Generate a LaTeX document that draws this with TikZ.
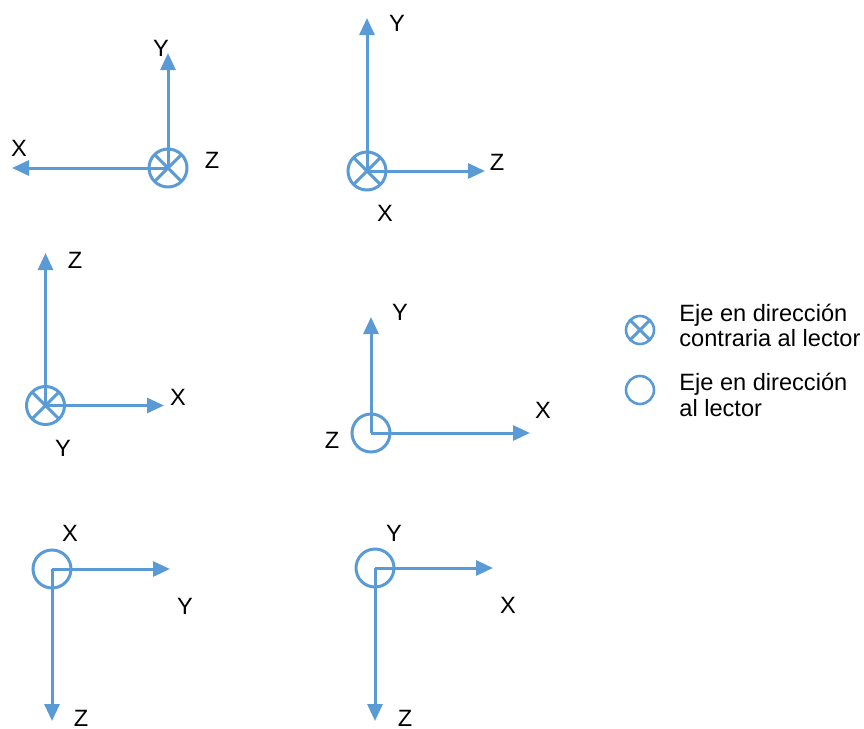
\documentclass[tikz,border=0pt]{standalone}
\usepackage{fontspec}
\setmainfont{Liberation Sans}
\usetikzlibrary{arrows.meta,positioning}
\definecolor{ejeazul}{HTML}{5B9BD5}
\tikzset{
  >={Triangle[length=8.5pt,width=7.5pt]},
  % ejes
  eje/.style={->,draw=ejeazul,line width=1.5pt},
  orig/.style={circle,draw=ejeazul,line width=1.5pt,inner sep=0pt,minimum size=19pt},
  entra/.style={orig,path picture={
      \draw[ejeazul,line width=1.5pt]
        (path picture bounding box.north west) -- (path picture bounding box.south east)
        (path picture bounding box.north east) -- (path picture bounding box.south west);}},
  % textos
  lbl/.style={font=\fontsize{11.8}{12.7}\selectfont,inner sep=0pt},
  ley/.style={lbl,anchor=west,align=left},
}
\begin{document}
\begin{tikzpicture}[x=0.5pt,y=-0.5pt]
  \useasboundingbox (0,0) rectangle (864,729);
  % sistema 1
  \node[entra] (o1) at (168,168) {};
  \coordinate (x1) at (12,168);
  \coordinate (y1) at (168,53);
  \node[lbl] (lx1) at (19,148) {X};
  \node[lbl] (ly1) at (161,48) {Y};
  \node[lbl] (lz1) at (212,160) {Z};
  \draw[eje] (o1.center) -- (x1);
  \draw[eje] (o1.center) -- (y1);
  % sistema 2
  \node[entra] (o2) at (367,171) {};
  \coordinate (y2) at (367,18);
  \coordinate (z2) at (485,171);
  \node[lbl] (ly2) at (397,23) {Y};
  \node[lbl] (lz2) at (497,162) {Z};
  \node[lbl] (lx2) at (385,213) {X};
  \draw[eje] (o2.center) -- (y2);
  \draw[eje] (o2.center) -- (z2);
  % sistema 3
  \node[entra] (o3) at (45.5,405.5) {};
  \coordinate (z3) at (45.5,253);
  \coordinate (x3) at (164,405.5);
  \node[lbl] (lz3) at (75,260) {Z};
  \node[lbl] (lx3) at (178,397) {X};
  \node[lbl] (ly3) at (63,448) {Y};
  \draw[eje] (o3.center) -- (z3);
  \draw[eje] (o3.center) -- (x3);
  % sistema 4
  \node[orig] (o4) at (371,433) {};
  \coordinate (y4) at (371,317);
  \coordinate (x4) at (530,433);
  \node[lbl] (ly4) at (400,312) {Y};
  \node[lbl] (lx4) at (543,410) {X};
  \node[lbl] (lz4) at (332,440) {Z};
  \draw[eje] (o4.center) -- (y4);
  \draw[eje] (o4.center) -- (x4);
  % sistema 5
  \node[orig] (o5) at (52,569) {};
  \coordinate (y5) at (170,569);
  \coordinate (z5) at (52,721);
  \node[lbl] (lx5) at (70,533) {X};
  \node[lbl] (ly5) at (185,606) {Y};
  \node[lbl] (lz5) at (81,718) {Z};
  \draw[eje] (o5.center) -- (y5);
  \draw[eje] (o5.center) -- (z5);
  % sistema 6
  \node[orig] (o6) at (375,568) {};
  \coordinate (x6) at (493,568);
  \coordinate (z6) at (375,721);
  \node[lbl] (ly6) at (394,533) {Y};
  \node[lbl] (lx6) at (508,605) {X};
  \node[lbl] (lz6) at (405,718) {Z};
  \draw[eje] (o6.center) -- (x6);
  \draw[eje] (o6.center) -- (z6);
  % leyenda
  \node[entra,minimum size=14pt,line width=1.3pt] (le1) at (640,330) {};
  \node[orig,minimum size=14pt,line width=1.3pt] (le2) at (640,390) {};
  \node[ley] (tx1) at (679,325.5) {Eje en dirección\\contraria al lector};
  \node[ley] (tx2) at (679,395) {Eje en dirección\\al lector};
\end{tikzpicture}
\end{document}
